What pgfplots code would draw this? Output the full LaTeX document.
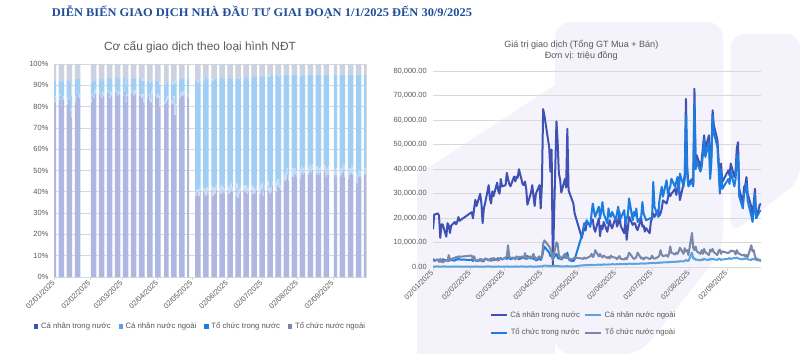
\documentclass[border=0pt]{standalone}
\usepackage{fontspec}
\setmainfont{Liberation Sans}
\newfontfamily\titlefont{Liberation Serif}
\usepackage{pgfplots}
\usepackage{pgfplotstable}
\pgfplotsset{compat=1.18}
\definecolor{cnTN}{RGB}{63,81,181}
\definecolor{cnNN}{RGB}{91,163,224}
\definecolor{tcTN}{RGB}{28,124,224}
\definecolor{tcNN}{RGB}{122,136,168}
\definecolor{bA}{RGB}{174,183,226}
\definecolor{bB}{RGB}{190,219,246}
\definecolor{bC}{RGB}{160,206,244}
\definecolor{bD}{RGB}{204,210,223}
\definecolor{gridc}{RGB}{217,217,217}
\definecolor{txtc}{RGB}{89,89,89}
\definecolor{titc}{RGB}{30,78,155}
\definecolor{bgL}{RGB}{244,243,251}

\pgfplotstableread{
d a b c e p1 p2 p3 p4
1 15.5 0.3 3.5 3.0 82 1 9 8
2 21.5 0.3 2.8 2.6 84 1 7 8
5 22.0 0.4 3.2 3.2 83 1 8 8
6 21.0 0.3 2.5 2.2 85 1 6 8
7 12.0 0.3 3.0 3.5 80 1 10 9
8 17.5 0.3 2.2 2.4 83 1 8 8
9 17.5 0.4 3.3 2.0 84 1 7 8
12 12.5 0.3 2.8 3.0 81 1 10 8
13 18.0 0.3 3.0 2.5 83 1 8 8
14 17.0 0.3 2.6 5.0 84 1 7 8
15 14.0 0.3 3.4 2.8 78 1 12 9
16 17.0 0.3 3.0 3.5 75 1 9 15
19 18.5 0.3 2.7 3.8 82 1 10 7
20 17.5 0.4 3.3 4.2 84 1 8 7
21 18.5 0.3 3.1 4.0 86 1 6 7
22 20.5 0.3 3.6 4.5 85 1 7 7
23 19.0 0.3 3.2 4.3 84 1 8 7
33 22.5 0.3 3.0 4.8 82 1 8 9
34 20.0 0.3 2.6 3.2 85 1 6 8
35 24.0 0.3 3.4 4.5 84 1 7 8
36 27.5 0.4 3.0 3.0 86 1 6 7
37 25.0 0.3 2.5 2.6 87 1 5 7
40 30.0 0.3 2.9 3.4 86 1 6 7
41 26.0 0.3 3.3 2.5 85 1 7 7
42 18.0 0.3 2.4 3.1 84 1 7 8
43 24.0 0.3 3.0 2.4 86 1 6 7
44 26.0 0.3 3.5 3.6 85 1 7 7
47 33.5 0.4 3.1 2.8 87 1 6 6
48 28.0 0.3 2.8 3.3 86 1 6 7
49 26.0 0.3 3.6 2.6 84 1 8 7
50 31.0 0.3 3.3 3.2 86 1 6 7
51 29.0 0.3 2.9 3.8 85 1 7 7
54 34.5 0.3 3.4 3.0 87 1 6 6
55 31.0 0.4 3.8 2.7 86 1 7 6
56 30.0 0.3 3.2 3.5 85 1 7 7
57 36.0 0.3 3.6 3.9 86 1 6 7
58 33.0 0.3 3.3 3.2 86 1 6 7
61 33.5 0.3 3.9 4.0 85 1 7 7
62 38.5 0.4 3.4 4.5 87 1 6 6
63 36.0 0.3 4.0 9.0 82 1 7 10
64 34.0 0.3 3.7 4.4 85 1 7 7
65 33.0 0.3 3.3 3.8 85 1 7 7
68 37.0 0.3 3.8 4.0 86 1 6 7
69 35.0 0.4 3.5 3.2 87 1 6 6
70 37.0 0.3 4.1 4.5 85 1 7 7
71 36.5 0.3 3.6 3.6 86 1 6 7
72 40.0 0.3 3.3 4.2 87 1 5 7
75 34.0 0.4 3.9 4.4 85 1 7 7
76 33.5 0.3 4.3 3.6 85 1 8 6
77 35.0 0.3 3.7 5.8 84 1 7 8
78 32.0 0.3 3.4 4.0 85 1 7 7
79 25.5 0.3 4.6 3.5 82 1 9 8
82 30.5 0.4 3.6 4.5 84 1 7 8
83 33.5 0.3 4.0 3.8 85 1 7 7
84 29.0 0.3 3.3 5.5 83 1 7 9
85 25.0 0.3 4.2 4.0 82 1 9 8
86 30.0 0.3 2.8 3.3 86 1 6 7
89 33.5 0.4 3.5 4.5 85 1 7 7
90 24.0 0.4 3.0 3.6 84 1 7 8
91 34.0 0.4 4.0 4.4 85 1 7 7
92 64.5 0.6 6.5 9.5 84 1 7 8
93 62.0 0.7 8.5 11.0 80 1 9 10
97 49.0 0.6 6.0 8.5 81 1 8 10
98 39.0 0.5 4.5 7.5 82 1 8 9
99 48.0 0.5 5.0 6.0 83 1 8 8
100 0.5 0.5 3.5 3.0 84 1 7 8
103 59.5 0.6 5.5 10.2 82 1 8 9
104 51.0 0.5 4.0 9.5 81 1 8 10
105 38.0 0.5 3.5 5.0 84 1 7 8
106 36.0 0.4 4.2 4.2 76 1 14 9
107 30.5 0.4 3.2 3.5 80 1 11 8
110 36.0 0.4 4.5 5.5 84 1 8 7
111 32.5 0.4 3.8 4.0 85 1 7 7
112 56.5 0.5 6.0 4.5 86 1 6 7
113 31.5 0.4 3.5 3.8 85 1 7 7
114 30.0 0.4 2.8 3.2 86 1 6 7
117 26.0 0.4 2.5 3.5 85 1 7 7
118 22.0 0.4 3.2 4.0 84 1 8 7
124 12.0 0.8 13.0 3.6 38 2 52 8
125 14.5 0.8 15.5 3.4 39 2 51 8
126 16.0 0.9 18.0 4.0 40 1 50 9
127 15.0 0.8 17.5 3.5 38 2 52 8
128 18.0 0.9 19.2 3.8 41 1 50 8
131 17.5 1.0 16.5 4.5 40 2 50 8
132 19.0 0.9 21.9 5.5 39 2 53 6
133 19.5 1.0 26.0 4.2 38 2 54 6
134 16.0 0.9 23.0 4.8 40 2 52 6
135 14.5 1.0 20.6 7.0 39 2 52 7
138 20.0 1.1 24.7 4.4 41 2 50 7
139 12.7 1.0 19.9 5.5 38 2 52 8
140 17.0 1.1 23.0 4.5 40 2 51 7
141 15.5 1.0 26.6 4.0 39 2 53 6
142 18.5 1.2 22.0 4.8 41 2 50 7
145 14.5 1.1 17.9 3.8 40 2 51 7
146 17.0 1.2 24.0 4.3 39 2 53 6
147 19.2 1.1 21.0 3.6 41 2 51 6
148 17.0 1.2 20.6 4.8 40 2 51 7
149 15.9 1.3 22.6 4.2 39 2 52 7
152 20.6 1.2 19.2 3.9 41 2 50 7
153 16.6 1.3 22.0 3.3 39 2 53 6
154 18.0 1.2 24.7 4.0 40 2 52 6
155 22.7 1.4 21.0 4.6 42 2 49 7
156 17.0 1.3 19.9 3.5 40 2 51 7
159 13.9 1.3 23.3 3.2 38 2 53 7
160 19.2 1.4 17.9 3.8 42 2 49 7
161 11.2 1.2 20.0 3.3 37 2 54 7
162 16.0 1.4 21.3 4.4 39 2 52 7
163 20.6 1.5 28.1 6.0 40 2 52 6
166 17.3 1.4 19.2 4.0 41 2 50 7
167 18.0 1.5 22.6 3.4 40 2 52 6
168 17.9 1.4 21.0 3.7 41 2 51 6
169 16.0 1.5 24.0 4.2 39 2 53 6
170 15.2 1.4 18.5 6.0 40 2 51 7
173 19.9 1.6 20.6 3.6 41 2 51 6
174 16.6 1.5 26.6 4.0 39 2 53 6
175 17.0 1.6 22.0 3.2 40 2 52 6
176 14.6 1.5 20.6 3.8 39 2 53 6
177 16.0 1.6 19.2 4.1 41 2 51 6
180 13.9 1.7 19.9 3.4 39 2 53 6
181 18.6 1.7 20.0 3.6 41 2 51 6
182 20.0 1.8 20.6 4.8 42 2 50 6
183 22.0 1.8 34.8 3.8 38 2 55 5
184 20.6 1.7 24.7 3.5 41 2 51 6
187 23.3 1.9 20.6 4.2 43 2 49 6
188 21.0 1.8 27.0 4.8 40 2 53 5
189 22.0 2.0 30.1 7.0 39 2 53 6
190 24.0 1.9 32.8 5.2 40 2 53 5
191 27.3 2.0 28.8 4.5 43 2 50 5
194 26.0 2.1 35.5 5.0 40 2 53 5
195 28.0 2.0 30.0 4.3 43 2 50 5
196 30.5 2.2 31.4 5.5 44 2 49 5
197 29.0 2.1 33.0 8.5 42 2 50 6
198 30.0 2.2 36.1 6.0 41 2 52 5
201 32.0 2.3 32.8 5.2 46 2 47 5
202 29.5 2.2 35.0 6.0 45 3 47 5
203 32.7 2.4 36.8 5.5 46 3 46 5
204 34.6 2.3 30.0 6.5 48 3 44 5
205 27.4 2.5 38.2 8.0 45 3 47 5
208 34.0 2.4 33.0 5.5 48 3 44 5
209 38.0 2.6 36.0 7.8 47 3 45 5
210 68.7 3.0 62.0 6.5 48 3 44 5
211 41.0 2.7 38.0 7.0 48 3 44 5
212 34.0 2.6 33.0 5.0 47 3 45 5
215 36.0 6.0 35.0 14.0 46 4 44 6
216 34.0 3.5 33.0 8.0 48 3 44 5
217 72.8 3.8 67.0 7.0 49 3 43 5
218 42.2 3.0 40.0 8.5 48 3 44 5
219 45.6 3.2 43.0 6.5 49 3 43 5
222 41.0 2.8 39.0 5.5 48 3 44 5
223 43.6 3.3 41.0 7.0 49 3 43 5
224 49.0 3.0 46.0 5.5 50 3 42 5
225 53.8 3.5 52.0 7.5 49 3 43 5
226 48.4 3.2 45.0 6.2 50 3 42 5
229 53.8 3.0 51.0 5.0 49 3 43 5
230 38.2 3.6 36.0 7.2 48 3 44 5
231 45.6 3.2 43.0 6.5 49 3 43 5
232 64.0 3.5 62.0 7.5 48 3 44 5
233 58.0 3.3 55.0 6.2 49 3 43 5
236 51.8 3.0 49.0 5.0 50 3 42 5
237 43.6 3.6 40.0 6.8 49 3 43 5
238 32.8 3.4 30.0 7.2 47 3 45 5
239 42.3 3.0 40.0 5.5 48 3 44 5
240 34.8 3.2 32.0 6.5 49 3 43 5
245 39.5 3.5 36.0 5.8 48 3 44 5
246 37.5 3.8 34.0 6.2 47 3 45 5
247 42.3 3.4 39.0 6.8 48 3 44 5
250 36.8 3.9 33.0 6.5 47 3 45 5
251 39.5 3.6 36.0 5.2 48 3 44 5
252 48.4 4.0 45.0 7.0 49 3 43 5
253 51.0 3.7 46.0 6.0 50 3 42 5
254 32.0 3.5 29.0 5.5 47 3 45 5
257 26.0 3.2 24.0 4.8 46 3 46 5
258 32.8 3.6 30.0 5.2 48 3 44 5
259 33.5 3.4 31.0 4.5 48 3 44 5
260 36.8 3.8 34.0 5.0 49 3 43 5
261 30.0 3.3 27.0 4.2 48 3 44 5
264 24.7 3.0 21.0 9.0 46 3 46 5
265 20.6 3.5 18.5 6.5 44 3 48 5
266 26.0 3.2 23.0 7.0 47 3 45 5
267 32.0 3.6 30.0 4.5 47 3 45 5
268 20.0 3.0 20.0 3.5 47 3 45 5
271 25.5 2.8 23.0 3.0 48 3 44 5
272 26.0 2.5 23.0 2.8 48 3 44 5
}\data

\begin{document}
\begin{tikzpicture}
\path[use as bounding box] (0,0) rectangle (600pt,265.5pt);
\fill[white] (0,0) rectangle (600pt,265.5pt);
% faint background shapes
\fill[bgL] (312.75pt,0pt) -- (312.75pt,134.25pt) -- (416.25pt,201.75pt) -- (416.25pt,0pt) -- cycle;
\fill[bgL, rounded corners=12pt] (416.25pt,0pt) -- (416.25pt,249pt) -- (542.25pt,249pt) -- (542.25pt,78pt) -- (480pt,0pt) -- cycle;
\fill[bgL, rounded corners=10pt] (548pt,240pt) -- (600pt,240pt) -- (600pt,130pt) -- (548pt,90pt) -- cycle;

% main title
\node[anchor=base, text=titc, inner sep=0pt] at (196.5pt,253pt)
  {\resizebox{315pt}{8pt}{\titlefont\bfseries DIỄN BIẾN GIAO DỊCH NHÀ ĐẦU TƯ GIAI ĐOẠN 1/1/2025 ĐẾN 30/9/2025}};
% chart titles
\node[anchor=base, text=txtc, inner sep=0pt, font=\fontsize{8.9}{10}\selectfont] at (150pt,227.6pt) {Cơ cấu giao dịch theo loại hình NĐT};
\node[anchor=base, text=txtc, inner sep=0pt, font=\fontsize{6.8}{8}\selectfont] at (436pt,230pt) {Giá trị giao dịch (Tổng GT Mua + Bán)};
\node[anchor=base, text=txtc, inner sep=0pt, font=\fontsize{6.8}{8}\selectfont] at (436pt,221.8pt) {Đơn vị: triệu đồng};

% ---------- left: 100% stacked bars ----------
\begin{axis}[
  at={(40.5pt,57.75pt)}, anchor=south west, scale only axis,
  width=234pt, height=159.75pt,
  ybar stacked, bar width=0.8,
  xmin=0.5, xmax=272.5, ymin=0, ymax=100,
  xtick={1,32,60,91,121,152,182,213,244},
  xticklabels={02/01/2025,02/02/2025,02/03/2025,02/04/2025,02/05/2025,02/06/2025,02/07/2025,02/08/2025,02/09/2025},
  ytick={0,10,...,100},
  yticklabels={0\%,10\%,20\%,30\%,40\%,50\%,60\%,70\%,80\%,90\%,100\%},
  /pgf/number format/assume math mode=true,
  ymajorgrids, grid style={draw=gridc, line width=0.5pt},
  axis line style={draw=gridc, line width=0.5pt},
  xtick style={draw=gridc, line width=0.5pt}, ytick style={draw=none},
  major tick length=2.5pt, tick align=outside, xtick pos=left,
  tick label style={font=\fontsize{5.6}{6}\selectfont, text=txtc},
  x tick label style={rotate=45, anchor=east, inner sep=1pt},
  y tick label style={inner sep=1.5pt},
  legend columns=4,
  legend style={at={(0.471,-0.233)}, anchor=center, draw=none, fill=none,
    font=\fontsize{5.8}{6.5}\selectfont, text=txtc, inner sep=0pt,
    /tikz/every even column/.append style={column sep=4pt}},
]
\addplot[fill=bA, draw=none,
  legend image code/.code={\fill[cnTN] (0pt,-1.6pt) rectangle (3.2pt,1.6pt);}] table[x=d,y=p1]{\data};
\addplot[fill=bB, draw=none,
  legend image code/.code={\fill[cnNN] (0pt,-1.6pt) rectangle (3.2pt,1.6pt);}] table[x=d,y=p2]{\data};
\addplot[fill=bC, draw=none,
  legend image code/.code={\fill[tcTN] (0pt,-1.6pt) rectangle (3.2pt,1.6pt);}] table[x=d,y=p3]{\data};
\addplot[fill=bD, draw=none,
  legend image code/.code={\fill[tcNN] (0pt,-1.6pt) rectangle (3.2pt,1.6pt);}] table[x=d,y=p4]{\data};
\legend{Cá nhân trong nước, Cá nhân nước ngoài, Tổ chức trong nước, Tổ chức nước ngoài}
\end{axis}

% ---------- right: lines ----------
\begin{axis}[
  at={(324.75pt,65pt)}, anchor=south west, scale only axis,
  width=246pt, height=147.2pt,
  xmin=1, xmax=272, ymin=0, ymax=80,
  axis x line*=bottom, axis y line*=left,
  x axis line style={draw=gridc, line width=0.5pt},
  y axis line style={draw=none},
  xtick={1,32,60,91,121,152,182,213,244},
  xticklabels={02/01/2025,02/02/2025,02/03/2025,02/04/2025,02/05/2025,02/06/2025,02/07/2025,02/08/2025,02/09/2025},
  ytick={0,10,...,80},
  yticklabels={{0.00},{10,000.00},{20,000.00},{30,000.00},{40,000.00},{50,000.00},{60,000.00},{70,000.00},{80,000.00}},
  /pgf/number format/assume math mode=true,
  ymajorgrids, grid style={draw=gridc, line width=0.5pt},
  xtick style={draw=gridc, line width=0.5pt}, ytick style={draw=none},
  major tick length=2.5pt, tick align=outside,
  tick label style={font=\fontsize{5.6}{6}\selectfont, text=txtc},
  x tick label style={rotate=45, anchor=east, inner sep=1pt},
  y tick label style={inner sep=2pt},
  legend columns=2,
  legend style={at={(0.46,-0.29)}, anchor=center, draw=none, fill=none,
    font=\fontsize{5.8}{6.5}\selectfont, text=txtc, inner sep=0pt, row sep=3pt,
    /tikz/every even column/.append style={column sep=1pt}},
  legend image code/.code={\draw[#1, line width=1.5pt] (0pt,0pt) -- (12pt,0pt);},
  every axis plot/.append style={line join=round},
]
\addplot[cnTN, line width=1.5pt] table[x=d,y=a]{\data};
\addplot[cnNN, line width=1.5pt] table[x=d,y=b]{\data};
\addplot[tcTN, line width=1.5pt] table[x=d,y=c]{\data};
\addplot[tcNN, line width=1.5pt] table[x=d,y=e]{\data};
\legend{Cá nhân trong nước, Cá nhân nước ngoài, Tổ chức trong nước, Tổ chức nước ngoài}
\end{axis}
\end{tikzpicture}
\end{document}
